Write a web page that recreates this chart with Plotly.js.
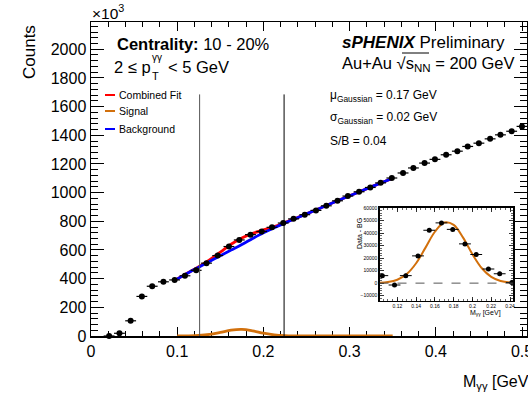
<!DOCTYPE html>
<html>
<head>
<meta charset="utf-8">
<script src="https://cdn.plot.ly/plotly-3.0.1.min.js"></script>
<style>html,body{margin:0;padding:0;background:#fff;}#chart{width:528px;height:393px;}</style>
</head>
<body>
<div id="chart"></div>
<script>
// ---- Main spectrum (counts in units of 10^3) ----
const massX = [0.021,0.033,0.046,0.059,0.071,0.084,0.097,0.109,0.122,0.134,0.147,0.160,0.172,0.185,0.198,0.210,0.223,0.235,0.248,0.261,0.273,0.286,0.298,0.311,0.324,0.336,0.349,0.362,0.374,0.387,0.399,0.412,0.425,0.437,0.450,0.463,0.475,0.488,0.500];
const counts = [0,19,106,276,347,378,391,420,458,508,561,624,670,707,729,758,788,817,846,876,908,943,976,1006,1036,1068,1102,1137,1172,1206,1232,1264,1289,1322,1345,1375,1403,1428,1462];
const binHalfWidth = 0.0063;

// ---- Fit curves ----
const fitX = [0.100,0.1125,0.125,0.1375,0.150,0.1625,0.175,0.1875,0.200,0.2125,0.225,0.2375,0.250,0.275,0.300,0.325,0.350];
const background = [398,440,480,520,560,599,638,680,720,755,789,820,852,915,978,1040,1100];
const signal = [0,0.7,3.4,11,25,40.6,45.8,36,20,7.8,2.1,0.4,0,0,0,0,0];
const combined = [398,440.7,483.4,531,585,639.6,683.8,716,740,762.8,791.1,820.4,852,915,978,1040,1100];

// ---- Integration window ----
const windowEdges = [0.126, 0.224];
const windowTop = 1685;

// ---- Inset: Data - BG ----
const insetX = [0.104,0.117,0.129,0.142,0.154,0.167,0.179,0.192,0.204,0.217,0.229,0.242];
const insetY = [6000,-1500,6000,21800,42300,48200,43000,31400,22900,11300,7500,500];
const insetErr = [1500,1500,1500,1500,1500,1500,1500,1500,1500,1500,1500,1500];
const gaussX = [0.101,0.11,0.12,0.13,0.14,0.15,0.16,0.17,0.18,0.19,0.20,0.21,0.22,0.23,0.24,0.2435];
const gaussY = [230,810,2700,7250,15900,28400,41100,48500,46600,36400,23100,11900,5000,1700,480,380];
const insetXTicks = [0.12,0.14,0.16,0.18,0.2,0.22,0.24];
const insetXTickText = ['0.12','0.14','0.16','0.18','0.2','0.22','0.24'];

const FONT = 'Liberation Sans, Arial, Helvetica, sans-serif';
const ORANGE = '#d2700c';
const L = 91, T = 22, W = 436, H = 314;
const PX = x => (x - L) / W;
const PY = y => (T + H - y) / H;

const traces = [
  {x: fitX, y: signal, mode: 'lines', line: {color: ORANGE, width: 2.8, shape: 'spline'}, xaxis: 'x', yaxis: 'y', hoverinfo: 'skip'},
  {x: fitX, y: combined, mode: 'lines', line: {color: '#ff0000', width: 2.8, shape: 'spline'}, xaxis: 'x', yaxis: 'y', hoverinfo: 'skip'},
  {x: fitX, y: background, mode: 'lines', line: {color: '#0000ff', width: 2.8, shape: 'spline'}, xaxis: 'x', yaxis: 'y', hoverinfo: 'skip'},
  {x: massX, y: counts, mode: 'markers', cliponaxis: false,
   marker: {color: '#000', size: 6},
   error_x: {type: 'constant', value: binHalfWidth, width: 0, thickness: 1.2, color: '#000'},
   xaxis: 'x', yaxis: 'y'},
  {x: gaussX, y: gaussY, mode: 'lines', line: {color: ORANGE, width: 2, shape: 'spline'}, xaxis: 'x2', yaxis: 'y2', hoverinfo: 'skip'},
  {x: insetX, y: insetY, mode: 'markers', cliponaxis: false,
   marker: {color: '#000', size: 5},
   error_x: {type: 'constant', value: binHalfWidth, width: 0, thickness: 1, color: '#000'},
   error_y: {type: 'data', array: insetErr, width: 0, thickness: 1, color: '#000'},
   xaxis: 'x2', yaxis: 'y2'}
];

function ann(text, x, y, size, extra) {
  return Object.assign({text: text, x: PX(x), y: PY(y), xref: 'paper', yref: 'paper', showarrow: false,
    xanchor: 'left', yanchor: 'middle', font: {family: FONT, size: size, color: '#000'}}, extra || {});
}

const annotations = [
  ann('×10<sup>3</sup>', 90, 12, 15.5),
  ann('Counts', 30, 52, 17, {textangle: -90, xanchor: 'center'}),
  ann('<b>Centrality:</b> 10 - 20%', 115, 44, 16.5),
  ann('2 ≤ p', 112, 67, 16.5),
  ann('γγ', 150, 58, 10),
  ann('T', 150, 76, 11),
  ann('< 5 GeV', 166, 67, 16.5),
  ann('Combined Fit', 117, 95, 10.5),
  ann('Signal', 117, 111, 10.5),
  ann('Background', 117, 129, 10.5),
  ann('<b><i>sPHENIX</i></b> Preliminary', 340, 42, 17),
  ann('Au+Au √s<sub>NN</sub> = 200 GeV', 340, 64, 16.5),
  ann('μ<sub>Gaussian</sub> = 0.17 GeV', 328, 96, 12),
  ann('σ<sub>Gaussian</sub> = 0.02 GeV', 328, 118, 12),
  ann('S/B = 0.04', 328, 141, 12),
  ann('M<sub>γγ</sub> [GeV]', 461, 382, 16),
  ann('Data - BG', 359, 234, 7, {textangle: -90, xanchor: 'center'}),
  ann('M<sub>γγ</sub> [GeV]', 503, 313, 7, {xanchor: 'right'})
];

const shapes = [
  {type: 'line', xref: 'x', yref: 'y', x0: windowEdges[0], x1: windowEdges[0], y0: 0, y1: windowTop, line: {color: '#555', width: 1}},
  {type: 'line', xref: 'x', yref: 'y', x0: windowEdges[1], x1: windowEdges[1], y0: 0, y1: windowTop, line: {color: '#000', width: 1}},
  {type: 'line', xref: 'paper', yref: 'paper', x0: PX(105), x1: PX(115), y0: PY(95), y1: PY(95), line: {color: '#ff0000', width: 2}},
  {type: 'line', xref: 'paper', yref: 'paper', x0: PX(105), x1: PX(115), y0: PY(111), y1: PY(111), line: {color: ORANGE, width: 2}},
  {type: 'line', xref: 'paper', yref: 'paper', x0: PX(105), x1: PX(115), y0: PY(129), y1: PY(129), line: {color: '#0000ff', width: 2}},
  {type: 'line', xref: 'paper', yref: 'paper', x0: PX(402), x1: PX(429), y0: PY(53), y1: PY(53), line: {color: '#000', width: 1}},
  {type: 'line', xref: 'x2', yref: 'y2', x0: 0.101, x1: 0.2435, y0: 0, y1: 0, line: {color: '#555', width: 1, dash: 'dash'}}
];

const axCommon = {showgrid: false, zeroline: false, showline: true, linecolor: '#000', mirror: 'allticks',
  ticks: 'inside', tickcolor: '#000'};

const layout = {
  width: 528, height: 393,
  margin: {l: L, r: 528 - L - W, t: T, b: 393 - T - H, pad: 0},
  paper_bgcolor: '#fff', plot_bgcolor: '#fff',
  showlegend: false,
  xaxis: Object.assign({}, axCommon, {domain: [0, 1], anchor: 'y', range: [0, 0.5058], tickmode: 'linear', tick0: 0, dtick: 0.1,
    ticklen: 9, tickwidth: 1, linewidth: 1.5, layer: 'below traces', ticklabeloverflow: 'allow',
    tickfont: {family: FONT, size: 16, color: '#000'},
    minor: {tickmode: 'linear', tick0: 0, dtick: 0.02, ticks: 'inside', ticklen: 5, tickcolor: '#000', tickwidth: 1}}),
  yaxis: Object.assign({}, axCommon, {domain: [0, 1], anchor: 'x', range: [0, 2190], tickmode: 'linear', tick0: 0, dtick: 200,
    ticklen: 13, tickwidth: 1, linewidth: 1.5, layer: 'below traces',
    tickfont: {family: FONT, size: 16, color: '#000'},
    minor: {tickmode: 'linear', tick0: 0, dtick: 40, ticks: 'inside', ticklen: 7, tickcolor: '#000', tickwidth: 1}}),
  xaxis2: Object.assign({}, axCommon, {domain: [PX(379.5), PX(513.3)], anchor: 'y2', range: [0.101, 0.2435],
    tickmode: 'array', tickvals: insetXTicks, ticktext: insetXTickText, ticklen: 4, tickwidth: 0.8, linewidth: 1.2,
    tickfont: {family: FONT, size: 5, color: '#000'},
    minor: {tickmode: 'linear', tick0: 0, dtick: 0.005, ticks: 'inside', ticklen: 2, tickcolor: '#000', tickwidth: 0.6}}),
  yaxis2: Object.assign({}, axCommon, {domain: [PY(301), PY(207.5)], anchor: 'x2', range: [-14300, 60500],
    tickmode: 'linear', tick0: 0, dtick: 10000, tickformat: 'd', ticklen: 4, tickwidth: 0.8, linewidth: 1.2,
    tickfont: {family: FONT, size: 5, color: '#000'},
    minor: {tickmode: 'linear', tick0: 0, dtick: 2000, ticks: 'inside', ticklen: 2, tickcolor: '#000', tickwidth: 0.6}}),
  annotations: annotations,
  shapes: shapes
};

Plotly.newPlot('chart', traces, layout, {staticPlot: true, displayModeBar: false});
</script>
</body>
</html>
